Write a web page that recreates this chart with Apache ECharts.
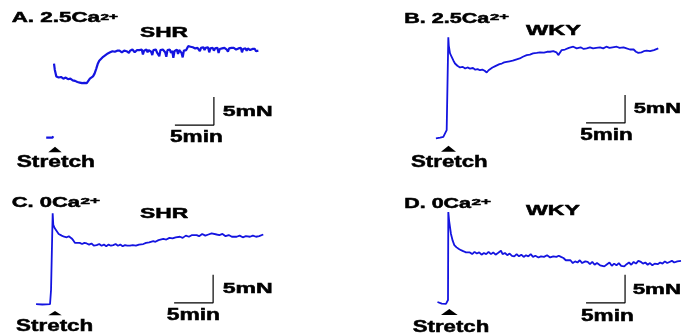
<!DOCTYPE html>
<html>
<head>
<meta charset="utf-8">
<script src="https://cdn.jsdelivr.net/npm/echarts@6/dist/echarts.min.js"></script>
<style>html,body{margin:0;padding:0;background:#fff}#c{width:682px;height:334px}</style>
</head>
<body>
<div id="c"></div>
<script>
// ---- data: time (min, 0 = stretch) vs force (mN above baseline) ----
const baseA = [[-1.0,0.05],[-0.2,0.05],[-0.1,0.3]];
const traceA = [[0.0,13.3],[0.1,12.2],[0.3,11.0],[0.6,10.8],[0.9,10.9],[1.2,10.6],[1.5,10.8],[1.8,10.5],[2.1,10.6],[2.4,10.3],[2.7,10.2],[3.0,10.0],[3.3,9.9],[3.6,9.8],[3.9,9.85],[4.2,9.8],[4.4,10.2],[4.6,10.6],[4.8,10.5],[5.0,11.0],[5.2,11.5],[5.4,12.3],[5.6,13.2],[5.8,13.8],[6.0,14.1],[6.3,14.5],[6.6,14.8],[6.9,15.1],[7.2,15.3],[7.5,15.5],[7.65,15.7],[7.8,15.4],[7.95,15.6],[8.1,15.6],[8.25,15.3],[8.4,15.6],[8.55,15.8],[8.7,15.3],[8.85,15.5],[9.0,15.6],[9.15,15.8],[9.3,15.5],[9.45,15.7],[9.6,15.2],[9.75,15.6],[9.9,15.5],[10.05,15.8],[10.2,15.6],[10.35,15.3],[10.5,15.1],[10.65,15.7],[10.8,15.5],[10.95,15.7],[11.1,15.4],[11.25,15.8],[11.4,14.9],[11.55,15.6],[11.7,15.5],[11.85,15.8],[12.0,15.3],[12.15,15.7],[12.3,15.6],[12.45,15.4],[12.6,14.8],[12.75,15.7],[12.9,15.5],[13.05,15.8],[13.2,15.3],[13.35,15.6],[13.5,14.6],[13.65,15.7],[13.8,15.4],[13.95,15.8],[14.1,15.6],[14.25,15.3],[14.4,14.5],[14.55,15.7],[14.7,15.5],[14.85,15.8],[15.0,15.2],[15.15,15.6],[15.3,14.3],[15.45,15.5],[15.6,15.6],[15.75,15.8],[15.9,15.0],[16.05,15.7],[16.2,15.7],[16.35,15.2],[16.5,14.4],[16.65,15.6],[16.8,15.4],[16.95,15.7],[17.1,15.5],[17.2,16.4],[17.35,16.6],[17.5,16.3],[17.65,16.5],[17.8,16.2],[17.95,16.4],[18.1,16.0],[18.25,16.3],[18.4,16.1],[18.55,16.3],[18.7,15.5],[18.85,16.1],[19.0,16.0],[19.15,16.2],[19.3,15.7],[19.45,16.1],[19.6,15.9],[19.75,16.2],[19.9,15.3],[20.05,16.0],[20.2,15.9],[20.35,16.1],[20.5,15.6],[20.65,16.0],[20.8,15.9],[20.95,16.1],[21.1,15.2],[21.25,15.9],[21.4,15.8],[21.55,16.0],[21.7,15.7],[21.85,16.1],[22.0,16.0],[22.15,15.8],[22.3,15.4],[22.45,16.0],[22.6,15.9],[22.75,16.1],[22.9,15.8],[23.05,16.1],[23.2,16.0],[23.35,15.8],[23.5,15.5],[23.65,16.0],[23.8,15.9],[23.95,16.1],[24.1,15.3],[24.25,15.9],[24.4,15.8],[24.55,16.0],[24.7,15.6],[24.85,16.0],[25.0,15.9],[25.15,15.7],[25.3,15.4],[25.45,15.9],[25.6,15.7],[25.75,15.9],[25.9,15.5],[26.05,15.8],[26.2,15.6]];
const traceB = [[-1.55,-0.05],[-1.0,0.05],[-0.6,0.2],[-0.38,0.35],[-0.17,1.4],[0.0,1.6],[0.04,18.0],[0.1,16.5],[0.26,15.1],[0.47,14.5],[0.7,13.8],[0.9,13.3],[1.2,12.9],[1.54,12.6],[1.9,12.7],[2.2,12.4],[2.5,12.6],[2.82,12.4],[3.2,12.5],[3.5,12.2],[3.8,12.3],[4.1,12.1],[4.4,12.2],[4.7,12.0],[4.96,11.7],[5.2,12.1],[5.38,12.3],[5.7,12.6],[6.0,12.8],[6.24,13.0],[6.6,13.2],[6.9,13.3],[7.2,13.5],[7.53,13.6],[7.9,13.7],[8.3,13.8],[8.81,14.05],[9.2,14.2],[9.6,14.5],[10.09,14.8],[10.5,14.9],[10.9,15.1],[11.37,15.2],[11.8,15.3],[12.3,15.25],[12.7,15.4],[13.08,15.4],[13.5,15.5],[13.9,15.3],[14.14,14.8],[14.3,14.9],[14.58,15.7],[15.0,15.8],[15.5,16.1],[16.06,16.3],[16.5,16.0],[17.0,16.2],[17.4,15.9],[17.78,16.0],[18.2,16.2],[18.6,16.0],[19.0,16.1],[19.49,16.2],[19.9,16.0],[20.3,16.3],[20.7,16.1],[21.1,16.2],[21.63,16.3],[22.0,16.1],[22.5,16.2],[22.9,16.0],[23.33,15.8],[23.8,15.8],[24.1,15.4],[24.4,15.2],[24.8,15.3],[25.1,15.5],[25.47,15.6],[25.9,15.5],[26.4,15.7],[26.96,16.0]];
const traceC = [[-2.3,0.05],[-1.5,0.0],[-0.51,0.05],[-0.38,2.6],[-0.17,16.3],[-0.09,14.2],[0.1,13.6],[0.35,13.3],[0.6,12.6],[0.99,12.3],[1.3,12.1],[1.63,12.0],[1.9,12.2],[2.27,11.8],[2.5,11.4],[2.7,11.0],[2.91,10.9],[3.3,11.0],[3.6,10.8],[3.9,11.0],[4.19,10.9],[4.5,10.7],[4.8,10.9],[5.1,10.5],[5.47,10.6],[5.8,10.8],[6.1,10.5],[6.4,10.7],[6.7,10.4],[7.0,10.7],[7.3,10.5],[7.6,10.6],[7.9,10.8],[8.2,10.5],[8.5,10.7],[8.8,10.4],[9.1,10.6],[9.4,10.5],[9.74,10.5],[10.1,10.6],[10.5,10.5],[10.9,10.7],[11.45,10.8],[11.8,11.0],[12.2,11.1],[12.73,11.3],[13.0,11.2],[13.4,11.5],[14.01,11.7],[14.4,11.6],[14.8,11.9],[15.2,11.8],[15.6,12.0],[16.15,12.1],[16.5,11.9],[16.9,12.3],[17.3,12.1],[17.7,12.4],[18.29,12.4],[18.6,12.2],[19.0,12.6],[19.4,12.3],[19.8,12.5],[20.2,12.7],[20.86,12.5],[21.2,12.4],[21.6,12.6],[22.0,12.2],[22.4,12.4],[22.8,12.1],[23.42,12.1],[23.8,12.3],[24.2,12.0],[24.6,12.2],[25.13,12.1],[25.5,12.3],[25.9,12.1],[26.3,12.2],[26.83,12.5]];
const traceD = [[-1.35,0.45],[-1.3,0.1],[-0.8,0.15],[-0.26,0.1],[0.0,0.8],[0.04,16.5],[0.15,14.9],[0.38,12.6],[0.6,11.4],[0.81,10.6],[1.1,10.2],[1.4,9.9],[1.67,9.7],[2.0,9.5],[2.3,9.3],[2.53,9.0],[2.8,9.3],[3.1,9.0],[3.4,9.4],[3.7,9.1],[4.0,9.3],[4.3,8.9],[4.6,9.2],[4.9,9.0],[5.2,9.4],[5.51,9.0],[5.8,9.3],[6.1,8.9],[6.4,9.2],[6.79,9.6],[7.0,9.0],[7.3,9.2],[7.6,8.8],[7.9,9.1],[8.2,8.7],[8.5,8.6],[8.8,9.0],[9.1,8.6],[9.4,8.9],[9.7,8.5],[10.0,8.8],[10.3,8.6],[10.6,9.0],[10.9,8.5],[11.2,8.7],[11.6,8.4],[11.92,8.6],[12.3,8.5],[12.7,8.8],[13.1,8.4],[13.5,8.6],[13.9,8.5],[14.2,8.7],[14.49,8.5],[14.8,8.3],[15.1,7.9],[15.35,7.6],[15.7,7.9],[16.0,7.4],[16.3,7.7],[16.6,7.5],[16.9,7.9],[17.2,7.4],[17.6,7.7],[17.91,7.6],[18.2,7.2],[18.5,7.6],[18.8,7.1],[19.1,7.4],[19.5,7.0],[20.04,6.8],[20.4,7.2],[20.7,7.5],[21.0,6.9],[21.3,7.3],[21.6,7.0],[21.9,7.4],[22.2,6.9],[22.6,6.8],[22.9,7.2],[23.2,7.5],[23.5,7.1],[23.8,7.6],[24.1,7.3],[24.4,7.8],[24.74,7.6],[25.0,7.3],[25.3,7.5],[25.6,7.1],[25.9,7.4],[26.2,7.0],[26.5,7.3],[26.88,7.2],[27.2,7.5],[27.5,7.3],[27.8,7.7],[28.1,7.4],[28.4,7.6],[28.7,7.8],[29.0,7.5],[29.4,7.7],[29.87,7.8]];
// scale bars: [right-end time (min), bottom force (mN)], length 5 min x 5 mN
const scaleBarEnds = [[20.5,2.3],[22.7,2.7],[20.4,0.3],[22.7,0.3]];
const scaleMin = 5, scaleMN = 5;
// labels
const panelTitles = ['A. 2.5Ca','B. 2.5Ca','C. 0Ca','D. 0Ca'];
const titleSup = '2+';
const groups = ['SHR','WKY','SHR','WKY'];
const forceLabel = '5mN', timeLabel = '5min', stretchLabel = 'Stretch';

// ---- layout ----
const grids = [
  {left:30.6, top:14.8, width:257.4, height:140},
  {left:424.6, top:14.8, width:257.4, height:140},
  {left:30.6, top:181.3, width:257.4, height:140},
  {left:424.6, top:181.3, width:257.4, height:140}
];
const TRACE = '#1414e0';
const widths = [2.2, 1.8, 1.8, 1.8];
const series = [];
const traces = [[baseA, traceA],[traceB],[traceC],[traceD]];
traces.forEach((arr, i) => {
  arr.forEach(d => series.push({type:'line', xAxisIndex:i, yAxisIndex:i, data:d, symbol:'none',
    lineStyle:{color:TRACE, width:widths[i]}, silent:true, animation:false}));
  const [t1, f1] = scaleBarEnds[i];
  series.push({type:'line', xAxisIndex:i, yAxisIndex:i, symbol:'none', silent:true, animation:false,
    data:[[t1 - scaleMin, f1],[t1, f1],[t1, f1 + scaleMN]], lineStyle:{color:'#000', width:1.2}});
});

const ctx = document.createElement('canvas').getContext('2d');
const FF = '"Liberation Sans", Arial, sans-serif';
function txt(str, left, right, capTop, capBot, size) {
  const font = 'bold ' + size + 'px ' + FF;
  ctx.font = font;
  const w = ctx.measureText(str).width;
  return {type:'text', x:left, y:(capTop + capBot) / 2, scaleX:(right - left) / w, silent:true,
    style:{text:str, font:font, fill:'#000', stroke:'#000', lineWidth:0.5,
      textAlign:'left', textVerticalAlign:'middle', align:'left', verticalAlign:'middle'}};
}
const G = [];
// titles
[[11.7,100,13.3,23.3, 100.5,118,17.3],[404.3,489.3,13.3,24, 490,509,17.5],
 [11.7,80,198,208, 80.5,100,202],[404.3,471,198.7,208.7, 471.5,491,202.5]].forEach((p,i) => {
  G.push(txt(panelTitles[i], p[0], p[1], p[2], p[3], 14));
  G.push(txt(titleSup, p[4], p[5], p[6]-3.2, p[6]+3.2, 9));
});
[[140,188,28.3,38.3],[526,581,25,36.7],[140,188.3,208.7,219.3],[526,580,205.3,217]].forEach((p,i) =>
  G.push(txt(groups[i], p[0], p[1], p[2], p[3], 15)));
[[222.7,272.7,106,117.3],[633.7,681,103.3,114.3],[222.7,272.7,283,294.3],[632.7,681,284.3,295.3]].forEach(p =>
  G.push(txt(forceLabel, p[0], p[1], p[2], p[3], 15)));
[[170,222.7,131.7,143.3],[580.3,632.7,130,141.7],[166.7,220,309.7,321.3],[581,633.7,310.3,322]].forEach(p =>
  G.push(txt(timeLabel, p[0], p[1], p[2], p[3], 16)));
[[16.7,95,156,168.5],[411,487.7,156,168.5],[16,93.3,320.3,333],[412.7,489.3,321,333.5]].forEach(p =>
  G.push(txt(stretchLabel, p[0], p[1], p[2], p[3], 17)));
[[[48.3,152.3],[55,146.7],[61.7,152.3]],[[441,151.7],[448.5,145.7],[456,151.7]],
 [[48.3,315.3],[55,311],[61.7,315.3]],[[441,315],[449.3,309],[457.7,315]]].forEach(pts =>
  G.push({type:'polygon', silent:true, shape:{points:pts}, style:{fill:'#000'}}));

const chart = echarts.init(document.getElementById('c'), null, {renderer:'canvas'});
chart.setOption({
  animation:false,
  backgroundColor:'#fff',
  grid: grids,
  xAxis: grids.map((g,i) => ({type:'value', gridIndex:i, min:-3, max:30, show:false})),
  yAxis: grids.map((g,i) => ({type:'value', gridIndex:i, min:-3, max:22, show:false})),
  series: series,
  graphic: G
});
</script>
</body>
</html>
